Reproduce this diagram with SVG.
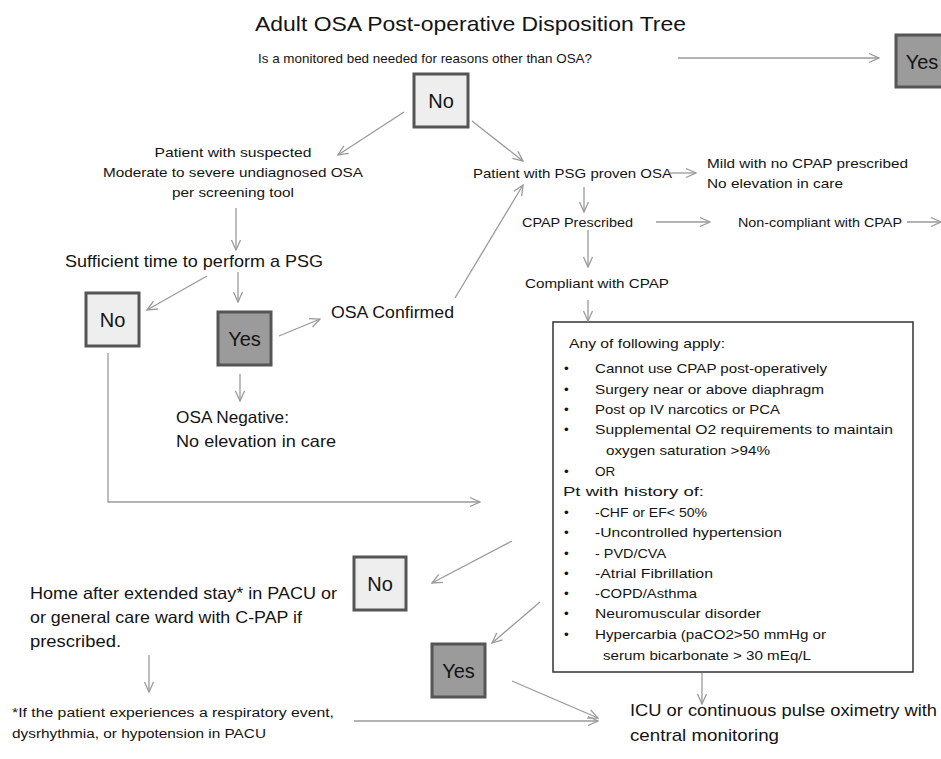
<svg xmlns="http://www.w3.org/2000/svg" width="941" height="759" viewBox="0 0 941 759">
<defs>
<marker id="ah" viewBox="0 0 12 12" refX="11" refY="6" markerWidth="12" markerHeight="12" markerUnits="userSpaceOnUse" orient="auto"><path d="M1,1.5 L11,6 L1,10.5" fill="none" stroke="#9a9a9a" stroke-width="1.3"/></marker>
<style>
text{font-family:"Liberation Sans",Arial,sans-serif;fill:#141414}
.t13{font-size:13px}
.t12{font-size:12.5px}
.t16{font-size:16.5px}
.t17{font-size:17px}
.box-lbl{font-size:20px;text-anchor:middle}
.lt{fill:#eeeeee;stroke:#555;stroke-width:3}
.dk{fill:#9b9b9b;stroke:#555;stroke-width:3}
.conn line,.conn polyline{stroke:#9a9a9a;stroke-width:1.3;fill:none}
.arr{marker-end:url(#ah)}
.bl{font-size:13.5px}
</style>
</defs>
<rect width="941" height="759" fill="#ffffff"/>

<g id="title"><text x="255" y="31" font-size="21" textLength="431" lengthAdjust="spacingAndGlyphs">Adult OSA Post-operative Disposition Tree</text></g>
<g id="question"><text class="t13" x="258" y="63" textLength="334" lengthAdjust="spacingAndGlyphs">Is a monitored  bed needed for reasons other than OSA?</text></g>

<g id="yes-top"><rect class="dk" x="896" y="35" width="52" height="52"/><text class="box-lbl" x="922" y="69">Yes</text></g>
<g id="no-top"><rect class="lt" x="414" y="74" width="54" height="53"/><text class="box-lbl" x="441" y="108">No</text></g>

<g id="suspected"><text class="t13" text-anchor="middle" x="233" y="157" textLength="157" lengthAdjust="spacingAndGlyphs">Patient with suspected</text><text class="t13" text-anchor="middle" x="233" y="177" textLength="260" lengthAdjust="spacingAndGlyphs">Moderate to severe undiagnosed OSA</text><text class="t13" text-anchor="middle" x="233" y="197" textLength="122" lengthAdjust="spacingAndGlyphs">per screening tool</text></g>

<g id="sufficient"><text class="t17" x="65" y="267" textLength="258" lengthAdjust="spacingAndGlyphs">Sufficient time to perform a PSG</text></g>

<g id="no-left"><rect class="lt" x="86" y="293" width="53" height="53"/><text class="box-lbl" x="112.5" y="327">No</text></g>
<g id="yes-left"><rect class="dk" x="218" y="312" width="53" height="53"/><text class="box-lbl" x="244.5" y="346">Yes</text></g>

<g id="osa-confirmed"><text class="t16" x="331" y="318" textLength="123" lengthAdjust="spacingAndGlyphs">OSA Confirmed</text></g>
<g id="osa-negative"><text class="t16" x="176" y="423" textLength="113" lengthAdjust="spacingAndGlyphs">OSA Negative:</text><text class="t16" x="176" y="447" textLength="160" lengthAdjust="spacingAndGlyphs">No elevation in care</text></g>

<g id="psg-proven"><text class="t13" x="473" y="178" textLength="199" lengthAdjust="spacingAndGlyphs">Patient with PSG proven OSA</text></g>
<g id="mild"><text class="t13" x="707" y="168" textLength="201" lengthAdjust="spacingAndGlyphs">Mild with no CPAP prescribed</text><text class="t13" x="707" y="188" textLength="136" lengthAdjust="spacingAndGlyphs">No elevation in care</text></g>
<g id="cpap-prescribed"><text class="t13" x="522" y="227" textLength="111" lengthAdjust="spacingAndGlyphs">CPAP Prescribed</text></g>
<g id="non-compliant"><text class="t13" x="738" y="227" textLength="164" lengthAdjust="spacingAndGlyphs">Non-compliant with CPAP</text></g>
<g id="compliant"><text class="t13" x="525" y="288" textLength="144" lengthAdjust="spacingAndGlyphs">Compliant with CPAP</text></g>

<g id="criteria">
<rect x="553" y="322" width="360" height="350" fill="#fff" stroke="#333" stroke-width="1.5"/>
<text class="bl" x="569" y="348" textLength="156" lengthAdjust="spacingAndGlyphs">Any of following apply:</text>
<text class="bl" x="564" y="373">•</text><text class="bl" x="595" y="373" textLength="232" lengthAdjust="spacingAndGlyphs">Cannot use CPAP post-operatively</text>
<text class="bl" x="564" y="394">•</text><text class="bl" x="595" y="394" textLength="229" lengthAdjust="spacingAndGlyphs">Surgery near or above diaphragm</text>
<text class="bl" x="564" y="414">•</text><text class="bl" x="595" y="414" textLength="185" lengthAdjust="spacingAndGlyphs">Post op IV narcotics or PCA</text>
<text class="bl" x="564" y="434">•</text><text class="bl" x="595" y="434" textLength="298" lengthAdjust="spacingAndGlyphs">Supplemental O2 requirements to maintain</text>
<text class="bl" x="606" y="455" textLength="164" lengthAdjust="spacingAndGlyphs">oxygen saturation &gt;94%</text>
<text class="bl" x="564" y="476">•</text><text class="bl" x="595" y="476">OR</text>
<text class="bl" x="563" y="496" textLength="141" lengthAdjust="spacingAndGlyphs">Pt with history of:</text>
<text class="bl" x="564" y="517">•</text><text class="bl" x="595" y="517" textLength="112" lengthAdjust="spacingAndGlyphs">-CHF or EF&lt; 50%</text>
<text class="bl" x="564" y="537">•</text><text class="bl" x="595" y="537" textLength="187" lengthAdjust="spacingAndGlyphs">-Uncontrolled hypertension</text>
<text class="bl" x="564" y="558">•</text><text class="bl" x="595" y="558" textLength="71" lengthAdjust="spacingAndGlyphs">- PVD/CVA</text>
<text class="bl" x="564" y="578">•</text><text class="bl" x="595" y="578" textLength="118" lengthAdjust="spacingAndGlyphs">-Atrial Fibrillation</text>
<text class="bl" x="564" y="598">•</text><text class="bl" x="595" y="598" textLength="102" lengthAdjust="spacingAndGlyphs">-COPD/Asthma</text>
<text class="bl" x="564" y="618">•</text><text class="bl" x="595" y="618" textLength="166" lengthAdjust="spacingAndGlyphs">Neuromuscular disorder</text>
<text class="bl" x="564" y="639">•</text><text class="bl" x="595" y="639" textLength="231" lengthAdjust="spacingAndGlyphs">Hypercarbia (paCO2&gt;50 mmHg or</text>
<text class="bl" x="603" y="660" textLength="208" lengthAdjust="spacingAndGlyphs">serum bicarbonate &gt; 30 mEq/L</text>
</g>

<g id="no-bottom"><rect class="lt" x="354" y="557" width="52" height="53"/><text class="box-lbl" x="380" y="591">No</text></g>
<g id="yes-bottom"><rect class="dk" x="432" y="644" width="53" height="53"/><text class="box-lbl" x="458.5" y="678">Yes</text></g>

<g id="home"><text class="t16" x="30" y="599" textLength="307" lengthAdjust="spacingAndGlyphs">Home after extended stay* in PACU or</text><text class="t16" x="30" y="623" textLength="272" lengthAdjust="spacingAndGlyphs">or general care ward with C-PAP if</text><text class="t16" x="30" y="647" textLength="91" lengthAdjust="spacingAndGlyphs">prescribed.</text></g>
<g id="footnote"><text class="t12" x="12" y="717" textLength="322" lengthAdjust="spacingAndGlyphs">*If the patient experiences a respiratory event,</text><text class="t12" x="12" y="738" textLength="254" lengthAdjust="spacingAndGlyphs">dysrhythmia, or hypotension in PACU</text></g>

<g id="icu"><text class="t17" x="630" y="716" textLength="307" lengthAdjust="spacingAndGlyphs">ICU or continuous pulse oximetry with</text><text class="t17" x="630" y="741" textLength="149" lengthAdjust="spacingAndGlyphs">central monitoring</text></g>

<g id="connectors" class="conn">
<line class="arr" x1="678" y1="58" x2="879" y2="58"/>
<line class="arr" x1="404" y1="112" x2="338" y2="155"/>
<line class="arr" x1="472" y1="121" x2="523" y2="161"/>
<line class="arr" x1="236" y1="208" x2="236" y2="250"/>
<line class="arr" x1="207" y1="276" x2="147" y2="310"/>
<line class="arr" x1="238" y1="272" x2="238" y2="302"/>
<line class="arr" x1="279" y1="336" x2="320" y2="319"/>
<line class="arr" x1="240" y1="374" x2="240" y2="401"/>
<polyline class="arr" points="108,353 108,502 480,502"/>
<line class="arr" x1="455" y1="298" x2="523" y2="185"/>
<line class="arr" x1="670" y1="173" x2="696" y2="173"/>
<line class="arr" x1="584" y1="187" x2="584" y2="212"/>
<line class="arr" x1="656" y1="222" x2="710" y2="222"/>
<line class="arr" x1="907" y1="222" x2="941" y2="222"/>
<line class="arr" x1="588" y1="230" x2="588" y2="267"/>
<line class="arr" x1="588" y1="300" x2="588" y2="321"/>
<line class="arr" x1="512" y1="541" x2="432" y2="583"/>
<line class="arr" x1="540" y1="602" x2="492" y2="643"/>
<line class="arr" x1="149" y1="655" x2="149" y2="692"/>
<line class="arr" x1="512" y1="681" x2="598" y2="718"/>
<line class="arr" x1="354" y1="721" x2="598" y2="721"/>
<line class="arr" x1="702" y1="673" x2="702" y2="704"/>
</g>
</svg>
